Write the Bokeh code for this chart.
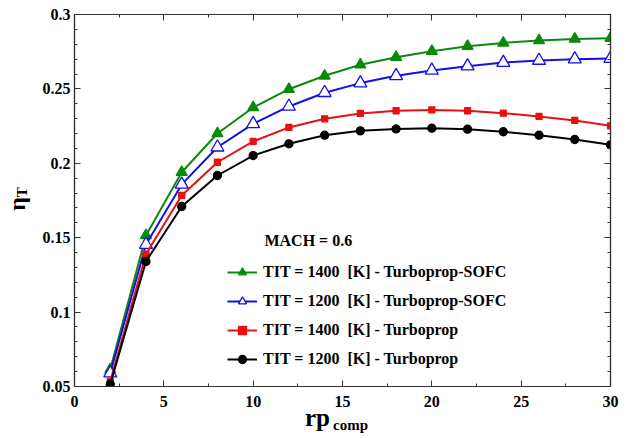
from bokeh.plotting import figure
from bokeh.models import (Range1d, SingleIntervalTicker, LinearAxis, Legend, LegendItem,
                          Label, CustomJSTickFormatter, Div)
from bokeh.layouts import row, column
from bokeh.embed import file_html
from bokeh.resources import INLINE

# ---- data ----
rp_comp = [2, 4, 6, 8, 10, 12, 14, 16, 18, 20, 22, 24, 26, 28, 30]
eta_1400_sofc = [0.0614, 0.1515, 0.1940, 0.2200, 0.2375, 0.2498, 0.2588, 0.2662, 0.2713,
                 0.2753, 0.2787, 0.2809, 0.2825, 0.2836, 0.2841]
eta_1200_sofc = [0.0590, 0.1454, 0.1858, 0.2108, 0.2265, 0.2382, 0.2474, 0.2539, 0.2588,
                 0.2624, 0.2653, 0.2677, 0.2691, 0.2700, 0.2704]
eta_1400_tp = [0.0534, 0.1390, 0.1784, 0.2007, 0.2147, 0.2241, 0.2299, 0.2335, 0.2353,
               0.2359, 0.2353, 0.2337, 0.2315, 0.2288, 0.2252]
eta_1200_tp = [0.0515, 0.1340, 0.1710, 0.1918, 0.2052, 0.2131, 0.2189, 0.2218, 0.2231,
               0.2236, 0.2229, 0.2212, 0.2189, 0.2160, 0.2124]
series_labels = ["TIT = 1400  [K] - Turboprop-SOFC",
                 "TIT = 1200  [K] - Turboprop-SOFC",
                 "TIT = 1400  [K] - Turboprop",
                 "TIT = 1200  [K] - Turboprop"]
note_text = "MACH = 0.6"

FONT = "Liberation Serif"
YLAB_W = 32

p = figure(width=620 - YLAB_W, height=414, output_backend="svg", toolbar_location=None,
           x_range=Range1d(0, 30), y_range=Range1d(0.05, 0.3000001),
           min_border_left=74 - YLAB_W, min_border_right=10, min_border_top=14,
           min_border_bottom=28, x_axis_location=None, y_axis_location=None)
p.margin = 0
p.background_fill_color = "white"
p.border_fill_color = "white"
p.outline_line_color = "#333333"
p.outline_line_width = 1.2
p.xgrid.visible = False
p.ygrid.visible = False

fmt = CustomJSTickFormatter(code="return String(Math.round(tick*100)/100)")
blank = CustomJSTickFormatter(code="return ''")

def make_axis(kind, show_labels):
    if kind == "x":
        ax = LinearAxis(ticker=SingleIntervalTicker(interval=5, num_minor_ticks=2))
    else:
        ax = LinearAxis(ticker=SingleIntervalTicker(interval=0.05, num_minor_ticks=5))
    ax.axis_line_color = "#333333"
    ax.axis_line_width = 1.2
    ax.major_tick_in = 6
    ax.major_tick_out = 0
    ax.minor_tick_in = 3
    ax.minor_tick_out = 0
    ax.major_tick_line_color = "#333333"
    ax.minor_tick_line_color = "#333333"
    if show_labels:
        ax.formatter = fmt
        ax.major_label_text_font = FONT
        ax.major_label_text_font_style = "bold"
        ax.major_label_text_font_size = "16px"
        ax.major_label_text_color = "black"
        ax.major_label_standoff = 9 if kind == "x" else 4
    else:
        ax.formatter = blank
        ax.major_label_standoff = 0
    return ax

p.add_layout(make_axis("x", True), "below")
p.add_layout(make_axis("y", True), "left")
p.add_layout(make_axis("x", False), "above")
p.add_layout(make_axis("y", False), "right")

styles = [
    dict(color="#0a8a0a", marker="triangle", size=11, fill="#0a8a0a"),
    dict(color="#1010e8", marker="triangle", size=13, fill="white"),
    dict(color="#e81010", marker="square", size=6, fill="#e81010"),
    dict(color="black", marker="circle", size=8, fill="black"),
]
data = [eta_1400_sofc, eta_1200_sofc, eta_1400_tp, eta_1200_tp]

items = []
for ys, st, lab in zip(data, styles, series_labels):
    ln = p.line(rp_comp, ys, line_color=st["color"], line_width=2)
    sc = p.scatter(rp_comp, ys, marker=st["marker"], size=st["size"],
                   line_color=st["color"], fill_color=st["fill"], line_width=1.3)
    items.append(LegendItem(label=lab, renderers=[ln, sc]))

legend = Legend(items=items, location=(153, 17), padding=0, margin=0,
                glyph_width=30, glyph_height=20, label_height=20, spacing=9,
                label_standoff=6, border_line_alpha=0, background_fill_alpha=0,
                label_text_font=FONT, label_text_font_style="bold",
                label_text_font_size="16px", label_text_color="black")
p.add_layout(legend, "center")

p.add_layout(Label(x=10.63, y=0.148, text=note_text, text_font=FONT, text_font_style="bold",
                   text_font_size="16px", text_baseline="middle", text_color="black"))

# axis titles as HTML text (with subscripts)
ylab_html = (
    f'<div style="position:relative;width:{YLAB_W}px;height:414px;">'
    f'<div style="position:absolute;left:17px;top:199px;white-space:nowrap;'
    f"font-family:'{FONT}';font-weight:bold;color:black;line-height:1;"
    'transform:translate(-50%,-50%) rotate(-90deg);">'
    '<span style="font-size:24px;">η</span>'
    '<span style="font-size:15px;position:relative;top:2px;">T</span>'
    '</div></div>'
)
xlab_html = (
    f'<div style="position:relative;width:{620 - YLAB_W}px;height:22px;">'
    f'<div style="position:absolute;left:{305 - YLAB_W}px;top:3px;white-space:nowrap;'
    f"font-family:'{FONT}';font-weight:bold;color:black;line-height:1px;\">"
    '<span style="font-size:25px;">rp</span>'
    '<span style="font-size:15px;position:relative;top:4px;margin-left:3px;">comp</span>'
    '</div></div>'
)
ylab = Div(text=ylab_html, width=YLAB_W, height=414, margin=0)
xlab = Div(text=xlab_html, width=620 - YLAB_W, height=22, margin=0)

layout = row(column(ylab, margin=0), column(p, xlab, margin=0), margin=0)
open("out.html", "w").write(file_html(layout, INLINE))
